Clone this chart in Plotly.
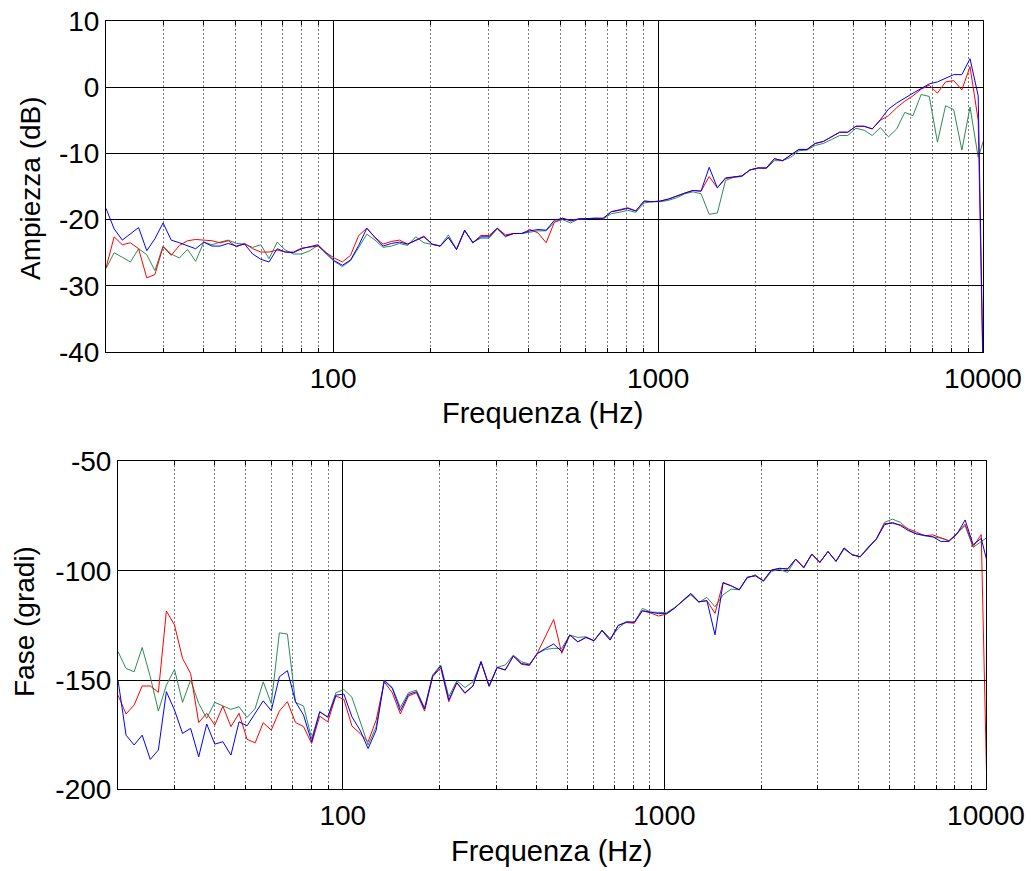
import plotly.graph_objects as go

# frequency points (Hz), 1/12-octave grid
freq = [20.00, 21.19, 22.45, 23.78, 25.20, 26.70, 28.28, 29.97, 31.75, 33.64,
        35.64, 37.75, 40.00, 42.38, 44.90, 47.57, 50.40, 53.39, 56.57, 59.93,
        63.50, 67.27, 71.27, 75.51, 80.00, 84.76, 89.80, 95.14, 100.79, 106.78,
        113.14, 119.87, 127.00, 134.55, 142.55, 151.03, 160.00, 169.51, 179.59, 190.27,
        201.59, 213.57, 226.27, 239.73, 253.98, 269.08, 285.09, 302.04, 320.00, 339.03,
        359.19, 380.55, 403.17, 427.15, 452.55, 479.46, 507.97, 538.17, 570.17, 604.08,
        640.00, 678.06, 718.38, 761.09, 806.35, 854.30, 905.10, 958.92, 1015.94, 1076.34,
        1140.35, 1208.16, 1280.00, 1356.11, 1436.75, 1522.19, 1612.70, 1708.60, 1810.19, 1917.83,
        2031.87, 2152.69, 2280.70, 2416.31, 2560.00, 2712.22, 2873.51, 3044.37, 3225.40, 3417.19,
        3620.39, 3835.67, 4063.75, 4305.38, 4561.40, 4832.63, 5120.00, 5424.45, 5747.02, 6088.74,
        6450.80, 6834.38, 7240.77, 7671.35, 8127.49, 8610.77, 9122.80, 9665.27, 10240.00]

amp_blue = [-18.3, -21.4, -23.1, -22.2, -21.2, -24.7, -22.9, -20.5, -23.1, -23.5,
            -23.9, -24.4, -23.4, -24.0, -24.0, -23.6, -24.0, -23.7, -25.2, -26.0,
            -26.4, -24.4, -24.9, -25.0, -24.4, -24.1, -23.8, -25.0, -26.2, -26.9,
            -26.1, -23.9, -21.3, -22.7, -24.0, -23.6, -23.4, -23.7, -23.1, -22.6,
            -23.7, -24.0, -22.7, -24.5, -21.6, -23.5, -22.6, -22.6, -21.3, -22.5,
            -22.1, -22.1, -21.7, -21.5, -21.6, -20.1, -19.8, -20.2, -19.9, -19.8,
            -19.8, -19.8, -18.8, -18.6, -18.3, -18.7, -17.2, -17.3, -17.2, -16.9,
            -16.4, -16.0, -15.6, -15.7, -12.1, -15.2, -13.7, -13.6, -13.4, -12.5,
            -12.2, -12.2, -10.8, -11.1, -10.3, -9.4, -9.4, -8.5, -8.2, -7.5,
            -6.8, -6.8, -5.9, -5.9, -6.3, -4.9, -3.3, -2.4, -1.6, -0.9,
            -0.2, 0.5, 0.8, 1.4, 1.9, 1.9, 4.3, -1.3, -70.0]

amp_red = [-27.3, -22.6, -23.8, -23.5, -24.4, -28.8, -28.3, -24.1, -25.4, -23.9,
           -23.2, -23.0, -23.1, -23.2, -23.5, -23.2, -24.1, -23.6, -24.4, -24.9,
           -24.9, -24.6, -24.9, -24.9, -24.3, -24.1, -24.0, -25.0, -25.8, -26.4,
           -25.4, -22.4, -21.3, -22.7, -23.7, -23.3, -23.1, -23.7, -23.1, -22.5,
           -23.7, -24.0, -22.7, -24.5, -21.6, -23.5, -22.4, -22.4, -21.3, -22.3,
           -22.1, -22.1, -21.5, -22.0, -23.5, -20.4, -19.8, -20.1, -19.9, -19.8,
           -19.8, -19.8, -18.8, -18.5, -18.2, -18.7, -17.2, -17.3, -17.2, -16.9,
           -16.4, -16.0, -15.6, -15.7, -13.5, -15.2, -13.8, -13.6, -13.4, -12.5,
           -12.2, -12.2, -10.8, -11.1, -10.3, -9.4, -9.4, -8.5, -8.2, -7.5,
           -6.8, -6.8, -5.9, -5.9, -6.3, -5.0, -4.3, -3.1, -2.1, -1.3,
           -0.3, 0.3, -0.9, 0.8, 1.0, -0.4, 3.1, -5.0, -70.0]

amp_green = [-27.4, -25.0, -25.7, -26.4, -24.4, -25.3, -27.7, -24.0, -25.2, -25.8,
             -24.5, -26.3, -23.4, -23.8, -23.4, -23.1, -23.6, -23.7, -24.2, -23.8,
             -25.9, -23.4, -24.6, -25.2, -25.2, -24.7, -23.9, -25.2, -26.3, -27.1,
             -26.2, -24.1, -22.2, -23.1, -24.2, -24.0, -23.6, -23.9, -22.6, -23.5,
             -23.7, -24.0, -22.3, -24.5, -21.7, -23.4, -22.8, -22.8, -21.4, -22.6,
             -22.1, -22.1, -21.9, -21.7, -21.7, -20.4, -20.0, -20.5, -19.9, -19.8,
             -19.8, -19.9, -19.1, -18.9, -18.6, -18.9, -17.5, -17.3, -17.3, -17.1,
             -16.7, -16.1, -15.8, -16.1, -19.2, -19.0, -14.1, -13.6, -13.5, -12.5,
             -12.2, -12.3, -11.1, -11.1, -10.6, -9.6, -9.5, -8.8, -8.5, -7.9,
             -7.3, -7.3, -6.2, -6.5, -7.3, -6.1, -7.5, -6.3, -3.8, -4.3,
             -1.1, -1.4, -8.3, -2.8, -3.4, -9.5, -3.0, -10.6, -6.7]

ph_blue = [-150.0, -175.2, -179.7, -175.2, -186.3, -182.0, -155.3, -163.7, -174.4, -172.1,
           -185.1, -170.1, -179.3, -178.2, -184.3, -169.1, -170.9, -165.2, -159.5, -164.0,
           -148.5, -145.7, -159.9, -166.0, -178.2, -164.5, -167.0, -156.9, -156.4, -166.8,
           -172.9, -181.3, -172.9, -150.3, -153.8, -164.0, -156.6, -155.3, -163.2, -148.2,
           -143.6, -159.1, -151.2, -155.8, -152.7, -141.6, -152.7, -144.2, -145.4, -139.0,
           -142.4, -143.1, -137.8, -135.5, -133.5, -137.0, -129.4, -132.5, -130.5, -132.0,
           -127.4, -131.7, -125.0, -123.5, -123.5, -118.3, -118.9, -119.6, -119.6, -117.1,
           -113.7, -110.4, -114.2, -113.7, -129.3, -105.6, -106.9, -108.7, -103.0, -102.3,
           -104.6, -99.7, -98.9, -99.2, -94.7, -98.5, -92.4, -96.2, -91.2, -95.7,
           -89.6, -92.7, -93.6, -89.3, -85.5, -79.0, -77.9, -79.4, -81.7, -83.2,
           -84.0, -84.5, -86.6, -86.6, -83.2, -76.8, -88.1, -85.2, -100.0]

ph_red = [-156.9, -165.5, -161.4, -152.7, -152.7, -155.6, -118.4, -124.8, -140.1, -147.0,
          -169.4, -165.2, -170.6, -161.9, -171.3, -165.2, -177.1, -178.7, -169.5, -172.9,
          -164.2, -159.9, -169.4, -171.3, -179.0, -166.5, -169.1, -157.3, -158.8, -171.0,
          -174.4, -178.2, -168.3, -150.8, -155.8, -165.5, -157.3, -155.8, -164.2, -148.5,
          -144.4, -159.9, -151.2, -156.1, -152.7, -141.6, -152.7, -144.2, -145.4, -139.0,
          -142.8, -143.3, -137.5, -129.9, -122.3, -137.8, -129.4, -132.5, -130.5, -132.0,
          -127.4, -131.7, -125.0, -123.7, -124.0, -118.3, -119.3, -120.7, -119.8, -117.1,
          -113.7, -110.4, -114.2, -113.7, -119.5, -105.3, -106.9, -108.7, -103.0, -102.3,
          -104.6, -99.7, -98.9, -99.2, -94.7, -98.5, -92.4, -96.2, -91.2, -95.7,
          -89.6, -92.7, -93.6, -89.3, -85.5, -78.4, -78.4, -79.0, -80.9, -82.4,
          -84.0, -83.6, -84.8, -86.3, -82.9, -78.7, -89.0, -83.5, -250.0]

ph_green = [-137.0, -144.7, -146.2, -135.1, -148.5, -164.2, -152.3, -145.1, -160.2, -150.0,
            -160.7, -167.5, -160.2, -161.9, -163.4, -162.2, -167.1, -163.0, -150.8, -160.7,
            -128.4, -129.0, -160.2, -161.9, -176.7, -164.5, -166.8, -155.8, -154.3, -157.9,
            -168.3, -179.7, -171.3, -150.0, -153.4, -162.5, -155.8, -154.6, -162.8, -147.7,
            -143.1, -157.6, -150.3, -153.4, -150.8, -141.6, -153.0, -144.2, -143.1, -138.6,
            -141.6, -142.7, -137.8, -136.0, -135.5, -135.5, -129.4, -130.5, -130.2, -132.0,
            -127.1, -130.9, -126.4, -123.2, -123.7, -117.2, -118.9, -118.9, -119.2, -116.8,
            -114.0, -111.0, -114.5, -112.2, -116.5, -111.0, -108.4, -108.7, -103.4, -101.8,
            -104.9, -100.3, -99.4, -100.8, -94.7, -98.8, -92.4, -96.2, -91.2, -95.7,
            -90.1, -92.7, -93.6, -89.0, -85.5, -77.9, -76.4, -77.9, -81.4, -83.2,
            -84.0, -84.5, -85.1, -86.3, -82.9, -79.4, -89.3, -86.6, -84.0]

x_major = [100, 1000, 10000]
x_major_text = ["100", "1000", "10000"]
x_minor = [20, 30, 40, 50, 60, 70, 80, 90,
           200, 300, 400, 500, 600, 700, 800, 900,
           2000, 3000, 4000, 5000, 6000, 7000, 8000, 9000]
amp_ticks = [-40, -30, -20, -10, 0, 10]
amp_tick_text = ["-40", "-30", "-20", "-10", "0", "10"]
ph_ticks = [-200, -150, -100, -50]
ph_tick_text = ["-200", "-150", "-100", "-50"]

GREEN = "#2e8b57"
RED = "#ff0000"
BLUE = "#0000ff"
FONT = "Liberation Sans, Arial, sans-serif"

fig = go.Figure()
for ys, col in [(amp_green, GREEN), (amp_red, RED), (amp_blue, BLUE)]:
    fig.add_trace(go.Scatter(x=freq, y=ys, mode="lines", line=dict(color=col, width=1),
                             xaxis="x", yaxis="y", showlegend=False, hoverinfo="skip"))
for ys, col in [(ph_green, GREEN), (ph_red, RED), (ph_blue, BLUE)]:
    fig.add_trace(go.Scatter(x=freq, y=ys, mode="lines", line=dict(color=col, width=1),
                             xaxis="x2", yaxis="y2", showlegend=False, hoverinfo="skip"))

# body margin is removed by the post script, so window pixels == figure pixels
W, H = 1031, 871


def px(x):
    return x / W


def py(y):
    return 1 - y / H


def xax(l, r, anchor):
    return dict(type="log", range=[1.30103, 4.0], domain=[px(l), px(r)], anchor=anchor,
                automargin=False, ticklabeloverflow="allow",
                tickmode="array", tickvals=x_major, ticktext=x_major_text,
                ticks="inside", ticklen=7, tickcolor="black", mirror="ticks",
                showline=True, linecolor="black", linewidth=1,
                showgrid=True, gridcolor="black", gridwidth=1,
                tickfont=dict(family=FONT, size=28, color="black"),
                ticklabelstandoff=1, zeroline=False,
                minor=dict(tickmode="array", tickvals=x_minor, ticks="inside", ticklen=4,
                           tickcolor="black", showgrid=True, gridcolor="#7a7a7a",
                           griddash="2px,2px", gridwidth=1))


def yax(b, t, anchor, rng, tv, tt):
    return dict(range=rng, domain=[py(b), py(t)], anchor=anchor,
                automargin=False, ticklabeloverflow="allow",
                tickmode="array", tickvals=tv, ticktext=tt,
                ticks="inside", ticklen=7, tickcolor="black", mirror="ticks",
                showline=True, linecolor="black", linewidth=1,
                showgrid=True, gridcolor="black", gridwidth=1, zeroline=False,
                tickfont=dict(family=FONT, size=28, color="black"),
                ticklabelstandoff=0)


fig.update_layout(
    width=W, height=H,
    margin=dict(l=0, r=0, t=0, b=0, autoexpand=False),
    paper_bgcolor="white", plot_bgcolor="white",
    hovermode=False,
    xaxis=xax(106, 983, "y"),
    yaxis=yax(352, 21, "x", [-40, 10], amp_ticks, amp_tick_text),
    xaxis2=xax(118, 986, "y2"),
    yaxis2=yax(789.4, 461.4, "x2", [-200, -50], ph_ticks, ph_tick_text),
    annotations=[
        dict(text="Frequenza (Hz)", x=px(542), y=py(413), xref="paper", yref="paper",
             showarrow=False, xanchor="center", yanchor="middle",
             font=dict(family=FONT, size=29, color="black")),
        dict(text="Frequenza (Hz)", x=px(551), y=py(851), xref="paper", yref="paper",
             showarrow=False, xanchor="center", yanchor="middle",
             font=dict(family=FONT, size=29, color="black")),
        dict(text="Ampiezza (dB)", x=px(30), y=py(188), xref="paper", yref="paper",
             showarrow=False, xanchor="center", yanchor="middle", textangle=-90,
             font=dict(family=FONT, size=28, color="black")),
        dict(text="Fase (gradi)", x=px(24), y=py(622), xref="paper", yref="paper",
             showarrow=False, xanchor="center", yanchor="middle", textangle=-90,
             font=dict(family=FONT, size=28, color="black")),
    ],
)

fig.write_html("out.html",
               config={"displayModeBar": False},
               post_script="document.body.style.margin='0';document.body.style.overflow='hidden';")
